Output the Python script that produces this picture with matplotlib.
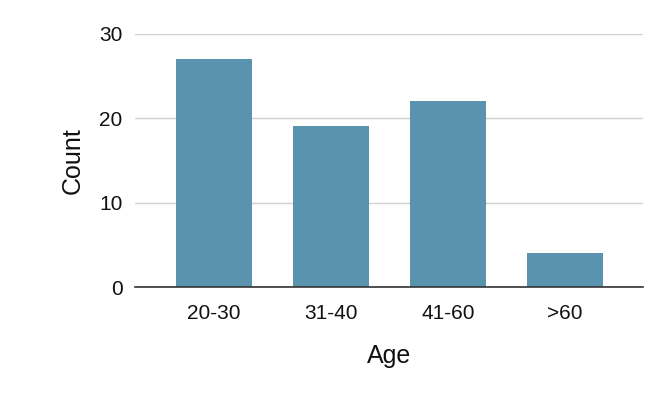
import matplotlib
matplotlib.use("Agg")
import matplotlib.pyplot as plt

categories = ["20-30", "31-40", "41-60", ">60"]
counts = [27, 19, 22, 4]
yticks = [0, 10, 20, 30]

plt.rcParams['font.family'] = ['Liberation Sans', 'DejaVu Sans']

fig = plt.figure(figsize=(6.64, 4.11), dpi=100)
ax = fig.add_axes([135/664, 1-287/411, 508/664, 253.5/411])

x = range(len(categories))
ax.bar(x, counts, width=0.65, color="#5a93ae", zorder=3)
ax.set_xlim(-0.675, 3.665)
ax.set_ylim(0, 30)
ax.set_yticks(yticks)
ax.set_xticks(list(x))
ax.set_xticklabels(categories)
ax.grid(axis='y', color='#d0d0d0', linewidth=1, zorder=0)
ax.set_axisbelow(True)
for s in ['top', 'right', 'left']:
    ax.spines[s].set_visible(False)
ax.spines['bottom'].set_color('#333333')
ax.spines['bottom'].set_linewidth(1.2)
ax.spines['bottom'].set_zorder(4)
ax.tick_params(axis='both', length=0, labelsize=15, colors='#111111')
ax.tick_params(axis='x', pad=12)
ax.tick_params(axis='y', pad=9)
ax.set_xlabel("Age", fontsize=18, labelpad=15, color='#111111')
ax.set_ylabel("Count", fontsize=18, labelpad=10, color='#111111')
fig.savefig("out.png", dpi=100)
